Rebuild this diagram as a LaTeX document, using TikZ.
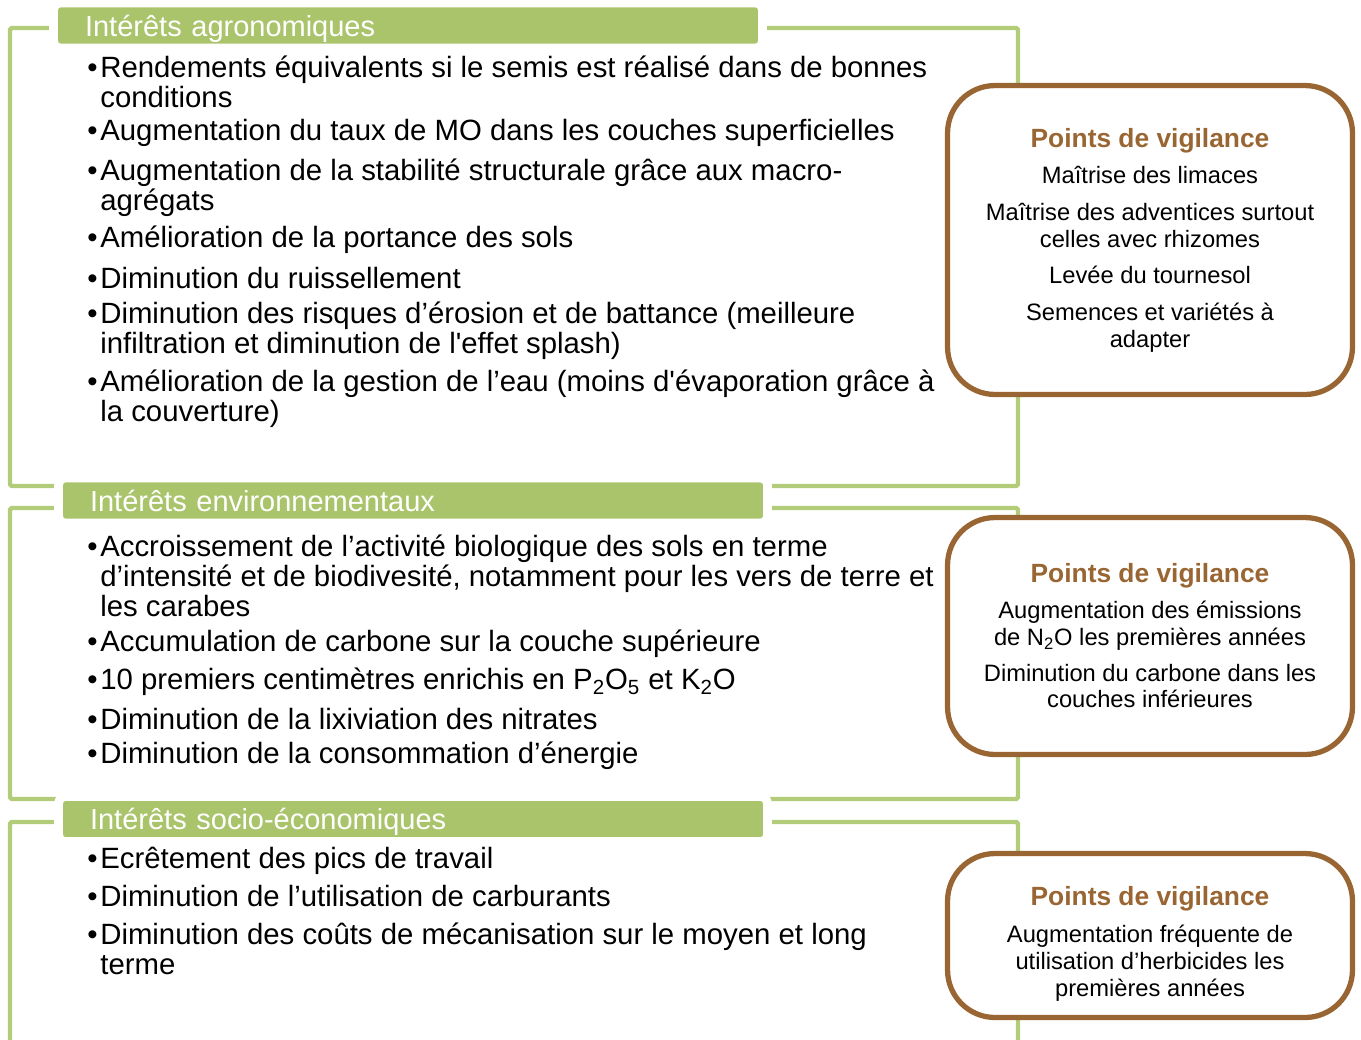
\documentclass[tikz,border=0pt]{standalone}
\usepackage{fontspec}
\setmainfont{Liberation Sans}
\usepackage{tikz}
\usetikzlibrary{positioning}

\definecolor{vertfond}{RGB}{170,196,108}
\definecolor{vertcadre}{RGB}{178,204,122}
\definecolor{brun}{RGB}{153,102,51}

\tikzset{
  cadre/.style={draw=vertcadre, line width=2.5pt, rounded corners=1pt},
  entete/.style={fill=vertfond, draw=white, line width=5pt, rounded corners=4pt,
    minimum height=0.9cm, text width=12.92cm, inner xsep=0.63cm, inner ysep=0pt,
    text depth=0pt, align=left, text=white, font=\fontsize{16.5}{18}\selectfont},
  point/.style={anchor=west, align=left, inner sep=0pt, font=\fontsize{16.7}{17}\selectfont},
  vigil/.style={draw=brun, line width=3pt, fill=white, rounded corners=0.95cm,
    minimum width=8.1cm, align=center, font=\fontsize{13.5}{15.3}\selectfont}
}
\newcommand{\puce}{\llap{\textbullet\kern1.5pt}}
\newcommand{\titrevig}{{\color{brun}\bfseries\fontsize{15}{17}\selectfont Points de vigilance}}

\begin{document}
\begin{tikzpicture}[x=0.02cm,y=-0.02cm]
   \useasboundingbox (0,0) rectangle (1361,1039);
   \draw[cadre] (10,28) rectangle (1018,486);
   \draw[cadre] (10,508) rectangle (1018,799);
   \draw[cadre] (10,1045) -- (10,822) -- (1018,822) -- (1018,1045);
\draw (408,25.5) node[entete] (agro) {Intérêts agronomiques};
\draw (413,500.5) node[entete] (envi) {Intérêts environnementaux};
\draw (413,819) node[entete] (socio) {Intérêts socio-économiques};
% interets agronomiques
\draw (100,81.5) node[point] (agro1) {\puce Rendements équivalents si le semis est réalisé dans de bonnes\\conditions};
\draw (100,133) node[point] (agro2) {\puce Augmentation du taux de MO dans les couches superficielles};
\draw (100,187.5) node[point] (agro3) {\puce Augmentation de la stabilité structurale grâce aux macro-\\agrégats};
\draw (100,240) node[point] (agro4) {\puce Amélioration de la portance des sols};
\draw (100,278) node[point] (agro5) {\puce Diminution du ruissellement};
\draw (100,331) node[point] (agro6) {\puce Diminution des risques d’érosion et de battance (meilleure\\infiltration et diminution de l\textquotesingle effet splash)};
\draw (100,399) node[point] (agro7) {\puce Amélioration de la gestion de l’eau (moins d\textquotesingle évaporation grâce à\\la couverture)};
% interets environnementaux
\draw (100,576) node[point] (envi1) {\puce Accroissement de l’activité biologique des sols en terme\\d’intensité et de biodivesité, notamment pour les vers de terre et\\les carabes};
\draw (100,644) node[point] (envi2) {\puce Accumulation de carbone sur la couche supérieure};
\draw (100,682) node[point] (envi3) {\puce 10 premiers centimètres enrichis en P\textsubscript{2}O\textsubscript{5} et K\textsubscript{2}O};
\draw (100,719) node[point] (envi4) {\puce Diminution de la lixiviation des nitrates};
\draw (100,756) node[point] (envi5) {\puce Diminution de la consommation d’énergie};
% interets socio-economiques
\draw (100,861) node[point] (socio1) {\puce Ecrêtement des pics de travail};
\draw (100,896) node[point] (socio2) {\puce Diminution de l’utilisation de carburants};
\draw (100,949) node[point] (socio3) {\puce Diminution des coûts de mécanisation sur le moyen et long\\terme};
% points de vigilance
\draw (1150,240) node[vigil, minimum height=6.18cm] (vig1) {\titrevig\\[5.5pt]
   Maîtrise des limaces\\[5.5pt]
   Maîtrise des adventices surtout\\celles avec rhizomes\\[5.5pt]
   Levée du tournesol\\[5.5pt]
   Semences et variétés à\\adapter};
\draw (1150,636) node[vigil, minimum height=4.74cm] (vig2) {\titrevig\\[5pt]
   Augmentation des émissions\\de N\textsubscript{2}O les premières années\\[5pt]
   Diminution du carbone dans les\\couches inférieures};
\draw (1150,935.5) node[vigil, minimum height=3.28cm] (vig3) {\rule{0pt}{20pt}\titrevig\\[6pt]
   Augmentation fréquente de\\utilisation d’herbicides les\\premières années};
\end{tikzpicture}
\end{document}
